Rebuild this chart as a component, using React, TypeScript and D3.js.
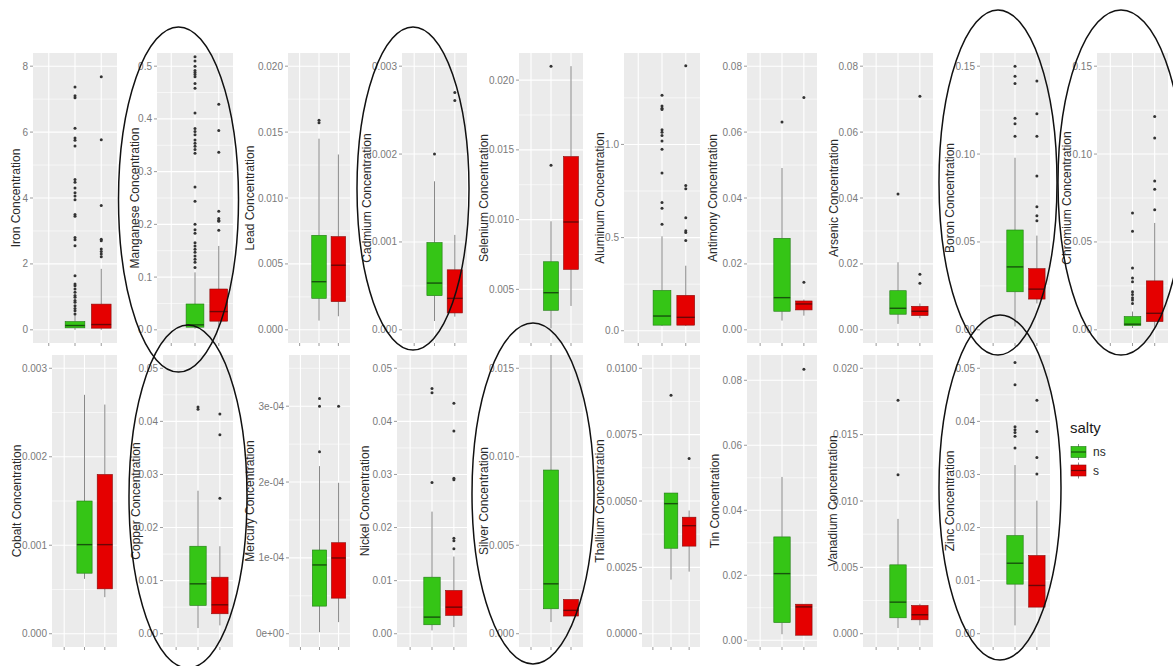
import React from "react";
import * as d3 from "d3";

// ---------- DATA ----------
const metals = [
  "Iron", "Manganese", "Lead", "Cadmium", "Selenium", "Aluminum", "Antimony", "Arsenic", "Boron", "Chromium",
  "Cobalt", "Copper", "Mercury", "Nickel", "Silver", "Thallium", "Tin", "Vanadium", "Zinc",
];

const groups = ["", "ns", "s"];

// y limits (coord limits before the 5% expansion)
const yLimits: number[][] = [
  [0, 8], [0, 0.5], [0, 0.02], [0, 0.003], [0.0021, 0.021], [0.005, 1.42], [0, 0.08], [0, 0.08], [0, 0.15], [0, 0.15],
  [0, 0.003], [0, 0.05], [0, 3.5e-4], [0, 0.05], [0, 0.015], [0, 0.01], [0.002, 0.0837], [0, 0.02], [0, 0.05],
];

const yTicks: number[][] = [
  [0, 2, 4, 6, 8],
  [0, 0.1, 0.2, 0.3, 0.4, 0.5],
  [0, 0.005, 0.01, 0.015, 0.02],
  [0, 0.001, 0.002, 0.003],
  [0.005, 0.01, 0.015, 0.02],
  [0, 0.5, 1.0],
  [0, 0.02, 0.04, 0.06, 0.08],
  [0, 0.02, 0.04, 0.06, 0.08],
  [0, 0.05, 0.1, 0.15],
  [0, 0.05, 0.1, 0.15],
  [0, 0.001, 0.002, 0.003],
  [0, 0.01, 0.02, 0.03, 0.04, 0.05],
  [0, 1e-4, 2e-4, 3e-4],
  [0, 0.01, 0.02, 0.03, 0.04, 0.05],
  [0, 0.005, 0.01, 0.015],
  [0, 0.0025, 0.005, 0.0075, 0.01],
  [0, 0.02, 0.04, 0.06, 0.08],
  [0, 0.005, 0.01, 0.015, 0.02],
  [0, 0.01, 0.02, 0.03, 0.04, 0.05],
];

const yTickLabels: string[][] = [
  ["0", "2", "4", "6", "8"],
  ["0.0", "0.1", "0.2", "0.3", "0.4", "0.5"],
  ["0.000", "0.005", "0.010", "0.015", "0.020"],
  ["0.000", "0.001", "0.002", "0.003"],
  ["0.005", "0.010", "0.015", "0.020"],
  ["0.0", "0.5", "1.0"],
  ["0.00", "0.02", "0.04", "0.06", "0.08"],
  ["0.00", "0.02", "0.04", "0.06", "0.08"],
  ["0.00", "0.05", "0.10", "0.15"],
  ["0.00", "0.05", "0.10", "0.15"],
  ["0.000", "0.001", "0.002", "0.003"],
  ["0.00", "0.01", "0.02", "0.03", "0.04", "0.05"],
  ["0e+00", "1e-04", "2e-04", "3e-04"],
  ["0.00", "0.01", "0.02", "0.03", "0.04", "0.05"],
  ["0.000", "0.005", "0.010", "0.015"],
  ["0.0000", "0.0025", "0.0050", "0.0075", "0.0100"],
  ["0.00", "0.02", "0.04", "0.06", "0.08"],
  ["0.000", "0.005", "0.010", "0.015", "0.020"],
  ["0.00", "0.01", "0.02", "0.03", "0.04", "0.05"],
];

// [lower whisker, q1, median, q3, upper whisker]
const nsStats: number[][] = [
  [0.0, 0.06, 0.13, 0.25, 0.45],
  [0.002, 0.005, 0.0094, 0.049, 0.109],
  [0.0007, 0.00239, 0.00365, 0.00717, 0.0145],
  [0.0001, 0.000389, 0.000532, 0.000993, 0.00169],
  [0.0022, 0.0035, 0.00476, 0.00698, 0.00988],
  [0.025, 0.03, 0.079, 0.2165, 0.507],
  [0.0028, 0.00563, 0.00976, 0.02777, 0.0491],
  [0.0018, 0.00473, 0.00654, 0.01187, 0.0205],
  [0.0019, 0.02164, 0.0358, 0.0568, 0.0979],
  [0.001, 0.00245, 0.0032, 0.00753, 0.0104],
  [0.00062, 0.000684, 0.001007, 0.0015, 0.0027],
  [0.00107, 0.00533, 0.0094, 0.01648, 0.02694],
  [0.2e-5, 3.64e-5, 9.07e-5, 1.104e-4, 2.21e-4],
  [0.00063, 0.00169, 0.00313, 0.01065, 0.023],
  [0.00066, 0.00141, 0.00282, 0.00925, 0.0165],
  [0.00204, 0.00322, 0.0049, 0.0053, 0.0053],
  [0.00185, 0.00544, 0.0205, 0.0318, 0.05026],
  [0.00043, 0.0012, 0.00238, 0.00519, 0.00865],
  [0.00157, 0.00934, 0.01328, 0.01848, 0.03177],
];

const sStats: number[][] = [
  [0.0, 0.05, 0.16, 0.78, 1.85],
  [0.005, 0.0164, 0.0346, 0.0774, 0.159],
  [0.00103, 0.00214, 0.0049, 0.00707, 0.0133],
  [0.00015, 0.000192, 0.000358, 0.000683, 0.00108],
  [0.00381, 0.00643, 0.00983, 0.01452, 0.021],
  [0.025, 0.03, 0.072, 0.19, 0.349],
  [0.0043, 0.00604, 0.00785, 0.00875, 0.0092],
  [0.0035, 0.00433, 0.00563, 0.00714, 0.008],
  [0.015, 0.0175, 0.02315, 0.0348, 0.0536],
  [0.001, 0.0047, 0.0094, 0.02785, 0.0608],
  [0.000413, 0.000507, 0.001007, 0.0018, 0.00259],
  [0.00157, 0.00376, 0.00545, 0.01065, 0.01648],
  [1.53e-5, 4.69e-5, 9.99e-5, 1.2e-4, 1.99e-4],
  [0.00125, 0.00345, 0.00501, 0.00815, 0.01454],
  [0.001, 0.001, 0.00132, 0.00194, 0.00194],
  [0.00234, 0.0033, 0.00407, 0.00439, 0.00464],
  [0.00154, 0.00154, 0.01026, 0.01108, 0.01108],
  [0.00063, 0.00105, 0.00143, 0.00213, 0.00226],
  [0.00501, 0.00501, 0.00909, 0.01473, 0.02506],
];

const nsOutliers: number[][] = [
  [7.37, 7.1, 7.04, 6.12, 5.82, 5.75, 5.58, 4.56, 4.48, 4.3, 4.16, 4.06, 3.95, 3.5, 3.45, 2.8, 2.73, 2.55, 1.64, 1.39, 1.34, 1.24, 1.14, 1.04, 0.99, 0.89, 0.84, 0.73, 0.65, 0.58, 0.48],
  [0.518, 0.51, 0.5, 0.492, 0.488, 0.484, 0.48, 0.467, 0.458, 0.411, 0.382, 0.376, 0.37, 0.36, 0.354, 0.348, 0.342, 0.335, 0.271, 0.244, 0.2, 0.19, 0.183, 0.165, 0.159, 0.153, 0.147, 0.14, 0.134, 0.128, 0.118],
  [0.0159, 0.0157],
  [0.002],
  [0.021, 0.0139],
  [1.264, 1.206, 1.194, 1.188, 1.079, 1.065, 1.048, 1.018, 0.974, 0.847, 0.688, 0.657, 0.572],
  [0.0631],
  [0.04125],
  [0.15, 0.1443, 0.1402, 0.1204, 0.1172, 0.1101],
  [0.0664, 0.0561, 0.0352, 0.0295, 0.0273, 0.0216, 0.0201, 0.0183, 0.0169, 0.015],
  [],
  [0.0427, 0.0423],
  [3.1e-4, 3.0e-4, 2.4e-4],
  [0.0462, 0.0454, 0.0285],
  [],
  [0.00898],
  [],
  [0.01759, 0.01198],
  [0.0511, 0.0469, 0.039, 0.0384, 0.0379, 0.0372, 0.035],
];

const sOutliers: number[][] = [
  [7.68, 5.77, 3.77, 2.75, 2.7, 2.45, 2.38, 2.3, 2.22],
  [0.428, 0.378, 0.337, 0.225, 0.211, 0.208, 0.206, 0.189],
  [],
  [0.0027, 0.00261],
  [],
  [1.422, 0.78, 0.762, 0.607, 0.537, 0.528, 0.484],
  [0.0705, 0.0144],
  [0.0709, 0.0169, 0.0141],
  [0.1415, 0.1229, 0.1101, 0.0875, 0.07, 0.0649, 0.0621],
  [0.1214, 0.1092, 0.0847, 0.08, 0.0683],
  [],
  [0.0414, 0.0375, 0.0255],
  [3.0e-4],
  [0.0434, 0.0382, 0.0293, 0.029, 0.018, 0.0175, 0.016],
  [],
  [0.0066],
  [0.0834],
  [],
  [0.044, 0.0381, 0.0332, 0.0301],
];

const legendTitle = "salty";
const legendLabels = ["ns", "s"];

// ---------- LAYOUT (pixel geometry, kept apart from data) ----------
const panelX: number[][] = [
  [33, 117], [157, 233], [288, 350], [402, 467], [519, 583], [624, 700], [747, 817], [863, 933], [980, 1050], [1097, 1168],
  [52, 117], [163, 233], [289, 350], [397, 467], [519, 583], [642, 700], [747, 817], [863, 933], [980, 1050],
];
const titleX = [16, 135, 250, 367, 484, 600, 713, 834, 950, 1067, 17, 136, 250, 365, 484, 600, 715, 833, 950];
const rowY = [[53, 343], [355, 647]];

const ellipses = [
  { cx: 178.5, cy: 199.5, rx: 60, ry: 172.5 },
  { cx: 413, cy: 188.5, rx: 56, ry: 161.5 },
  { cx: 998, cy: 182.5, rx: 59, ry: 172.5 },
  { cx: 1121, cy: 182.5, rx: 63, ry: 172.5 },
  { cx: 188, cy: 496.5, rx: 59, ry: 171.5 },
  { cx: 533, cy: 493.5, rx: 61, ry: 170.5 },
  { cx: 1000, cy: 487.5, rx: 61, ry: 172.5 },
];

const FILLS = ["#35C516", "#E50000"];
const FONT = "'Liberation Sans', Arial, sans-serif";

function expand([a, b]: number[]) {
  const r = b - a;
  return [a - 0.05 * r, b + 0.05 * r];
}

function minorBreaks(ticks: number[], dom: number[]) {
  const out: number[] = [];
  const step = ticks[1] - ticks[0];
  for (let i = 0; i < ticks.length - 1; i++) out.push((ticks[i] + ticks[i + 1]) / 2);
  const lo = ticks[0] - step / 2;
  const hi = ticks[ticks.length - 1] + step / 2;
  if (lo >= dom[0]) out.push(lo);
  if (hi <= dom[1]) out.push(hi);
  return out;
}

function Panel({ i }: { i: number }) {
  const row = i < 10 ? 0 : 1;
  const [x0, x1] = panelX[i];
  const [y0, y1] = rowY[row];
  const dom = expand(yLimits[i]);
  const y = d3.scaleLinear().domain(dom).range([y1, y0]);
  const x = d3.scaleLinear().domain([0.4, 3.6]).range([x0, x1]);
  const unit = x(2) - x(1);
  const bw = 0.75 * unit;
  const ticks = yTicks[i];
  const minors = minorBreaks(ticks, dom);
  const clipId = `clip-${i}`;
  const stats = [nsStats[i], sStats[i]];
  const outs = [nsOutliers[i], sOutliers[i]];
  const cy = (y0 + y1) / 2;

  return (
    <g>
      <defs>
        <clipPath id={clipId}>
          <rect x={x0} y={y0} width={x1 - x0} height={y1 - y0} />
        </clipPath>
      </defs>
      <rect x={x0} y={y0} width={x1 - x0} height={y1 - y0} fill="#EBEBEB" />
      <g clipPath={`url(#${clipId})`}>
        {minors.map((m, k) => (
          <line key={"mn" + k} x1={x0} x2={x1} y1={y(m)} y2={y(m)} stroke="#FFFFFF" strokeWidth={0.6} />
        ))}
        {ticks.map((t, k) => (
          <line key={"mj" + k} x1={x0} x2={x1} y1={y(t)} y2={y(t)} stroke="#FFFFFF" strokeWidth={1.1} />
        ))}
        {groups.map((g, k) => (
          <line key={"vx" + k} x1={x(k + 1)} x2={x(k + 1)} y1={y0} y2={y1} stroke="#FFFFFF" strokeWidth={1.1} />
        ))}
        {stats.map((st, k) => {
          const cx = x(k + 2);
          const [lw, q1, med, q3, uw] = st;
          return (
            <g key={"box" + k}>
              <line x1={cx} x2={cx} y1={y(q3)} y2={y(uw)} stroke="#555" strokeWidth={0.7} />
              <line x1={cx} x2={cx} y1={y(q1)} y2={y(lw)} stroke="#555" strokeWidth={0.7} />
              <rect
                x={cx - bw / 2}
                y={y(q3)}
                width={bw}
                height={Math.max(0.5, y(q1) - y(q3))}
                fill={FILLS[k]}
                stroke={k === 0 ? "#1F7A12" : "#8A0A0A"}
                strokeWidth={0.6}
              />
              <line x1={cx - bw / 2} x2={cx + bw / 2} y1={y(med)} y2={y(med)} stroke={k === 0 ? "#17520D" : "#6A0606"} strokeWidth={1.4} />
              {outs[k].map((o, j) => (
                <circle key={j} cx={cx} cy={y(o)} r={1.5} fill="#333" />
              ))}
            </g>
          );
        })}
      </g>
      {ticks.map((t, k) => (
        <g key={"tk" + k}>
          <line x1={x0 - 3} x2={x0} y1={y(t)} y2={y(t)} stroke="#555" strokeWidth={0.6} />
          <text x={x0 - 5} y={y(t)} dy="0.35em" textAnchor="end" fontSize={10} fill="#7a7a7a" fontFamily={FONT}>
            {yTickLabels[i][k]}
          </text>
        </g>
      ))}
      {groups.map((g, k) => (
        <line key={"xt" + k} x1={x(k + 1)} x2={x(k + 1)} y1={y1} y2={y1 + 3} stroke="#555" strokeWidth={0.6} />
      ))}
      <text
        transform={`translate(${titleX[i]},${cy}) rotate(-90)`}
        textAnchor="middle"
        dy="0.35em"
        fontSize={12}
        fill="#2a2a2a"
        fontFamily={FONT}
      >
        {metals[i] + " Concentration"}
      </text>
    </g>
  );
}

function Legend() {
  const lx = 1071;
  const keys = [452, 470.5];
  return (
    <g fontFamily={FONT}>
      <text x={1070} y={428} dy="0.35em" fontSize={15} fill="#1a1a1a">
        {legendTitle}
      </text>
      {legendLabels.map((l, k) => {
        const cy = keys[k];
        return (
          <g key={l}>
            <line x1={lx + 7.5} x2={lx + 7.5} y1={cy - 8} y2={cy + 8} stroke="#555" strokeWidth={0.7} />
            <rect x={lx} y={cy - 5.5} width={15} height={11} fill={FILLS[k]} stroke={k === 0 ? "#1F7A12" : "#8A0A0A"} strokeWidth={0.6} />
            <line x1={lx} x2={lx + 15} y1={cy} y2={cy} stroke={k === 0 ? "#17520D" : "#6A0606"} strokeWidth={1.2} />
            <text x={1093} y={cy} dy="0.35em" fontSize={12} fill="#2a2a2a">
              {l}
            </text>
          </g>
        );
      })}
    </g>
  );
}

export default function App() {
  return (
    <svg width={1173} height={666} style={{ position: "absolute", left: 0, top: 0, background: "#fff" }}>
      <rect width={1173} height={666} fill="#fff" />
      {metals.map((m, i) => (
        <Panel key={m} i={i} />
      ))}
      <Legend />
      {ellipses.map((e, k) => (
        <ellipse key={k} cx={e.cx} cy={e.cy} rx={e.rx} ry={e.ry} fill="none" stroke="#111" strokeWidth={1.5} />
      ))}
    </svg>
  );
}
